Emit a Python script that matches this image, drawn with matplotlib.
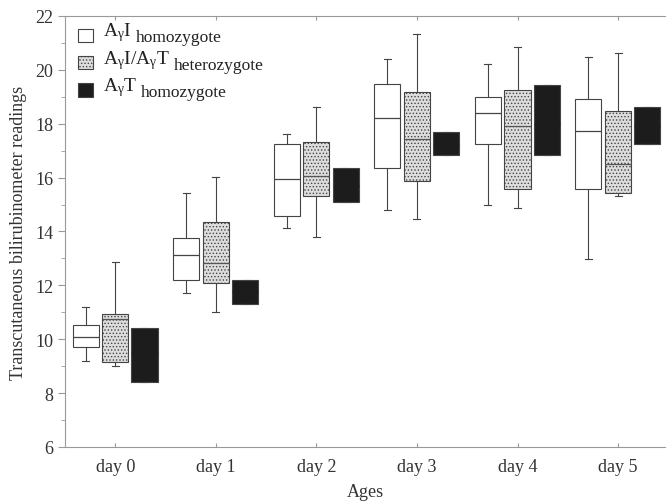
import numpy as np
import matplotlib.pyplot as plt
from matplotlib.patches import Rectangle

plt.rcParams['font.family'] = ['Liberation Serif', 'DejaVu Serif']
plt.rcParams['mathtext.fontset'] = 'custom'
plt.rcParams['mathtext.rm'] = 'Liberation Serif'
plt.rcParams['mathtext.it'] = 'Liberation Serif:italic'
plt.rcParams['hatch.color'] = '#777777'
plt.rcParams['hatch.linewidth'] = 0.6

days = ['day 0', 'day 1', 'day 2', 'day 3', 'day 4', 'day 5']

# 每组: 下须, 下四分位, 中位数, 上四分位, 上须
ai_lo = [9.19, 11.72, 14.14, 14.78, 15.0, 12.96]
ai_q1 = [9.7, 12.21, 14.56, 16.36, 17.23, 15.57]
ai_med = [10.1, 13.12, 15.95, 18.22, 18.4, 17.73]
ai_q3 = [10.51, 13.74, 17.26, 19.46, 19.0, 18.9]
ai_hi = [11.19, 15.43, 17.6, 20.4, 20.23, 20.46]

het_lo = [9.0, 11.0, 13.78, 14.46, 14.88, 15.3]
het_q1 = [9.16, 12.1, 15.32, 15.89, 15.57, 15.44]
het_med = [10.74, 12.84, 16.06, 17.42, 17.91, 16.52]
het_q3 = [10.93, 14.36, 17.32, 19.19, 19.26, 18.47]
het_hi = [12.88, 16.01, 18.62, 21.32, 20.84, 20.63]

at_q1 = [8.41, 11.31, 15.1, 16.83, 16.85, 17.23]
at_q3 = [10.43, 12.21, 16.35, 17.7, 19.44, 18.62]
at_med = [9.5, 11.8, 15.7, 17.2, 18.0, 17.9]

label_main = [r'A$_{\mathrm{γ}}$I', r'A$_{\mathrm{γ}}$I/A$_{\mathrm{γ}}$T', r'A$_{\mathrm{γ}}$T']
label_sub = ['homozygote', 'heterozygote', 'homozygote']


def stats(lo, q1, med, q3, hi):
    return [dict(whislo=a, q1=b, med=c, q3=d, whishi=e, fliers=[])
            for a, b, c, d, e in zip(lo, q1, med, q3, hi)]


fig = plt.figure(figsize=(6.67, 5.02), dpi=100)
ax = fig.add_axes([0.0975, 0.1076, 0.9, 0.8586])

x = np.arange(len(days))
w = 0.26
line_c = '#444444'

fills = ['white', '#dddddd', '#1c1c1c']
hatches = [None, '.....', None]
groups = [
    (stats(ai_lo, ai_q1, ai_med, ai_q3, ai_hi), -0.295, line_c),
    (stats(het_lo, het_q1, het_med, het_q3, het_hi), 0.0, '#555555'),
    (stats(at_q1, at_q1, at_med, at_q3, at_q3), 0.29, '#1c1c1c'),
]

for (st, off, mc), fc, hatch in zip(groups, fills, hatches):
    ax.bxp(st, positions=x + off, widths=w, capwidths=0.07, showfliers=False,
           patch_artist=True,
           boxprops=dict(facecolor=fc, edgecolor=line_c, linewidth=0.8, hatch=hatch),
           medianprops=dict(color=mc, linewidth=0.9),
           whiskerprops=dict(color=line_c, linewidth=0.8),
           capprops=dict(color=line_c, linewidth=0.8))

# 图例手工画: 下沉的小字用 annotate 接在主文字后面
for i in range(3):
    y0 = 0.97 - i * 0.063
    ax.add_patch(Rectangle((0.021, y0 - 0.031), 0.025, 0.031, transform=ax.transAxes,
                           facecolor=fills[i], edgecolor=line_c, linewidth=0.8,
                           hatch=hatches[i], clip_on=False))
    t = ax.text(0.063, y0 - 0.016, label_main[i], transform=ax.transAxes,
                fontsize=14, color='#222222', va='baseline')
    ax.annotate(label_sub[i], xy=(1, 0), xycoords=t, xytext=(3, 1.5),
                textcoords='offset points', fontsize=12.5, color='#222222',
                va='baseline')

ax.set_xlim(-0.5, 5.47)
ax.set_ylim(6, 22)
ax.set_xticks(x)
ax.set_xticklabels(days)
ax.set_yticks(np.arange(6, 23, 2))
ax.set_yticks(np.arange(7, 22, 2), minor=True)

for s in ['left', 'top', 'bottom']:
    ax.spines[s].set_color('#999999')
    ax.spines[s].set_linewidth(0.8)
ax.spines['right'].set_visible(False)

ax.tick_params(axis='y', which='major', length=5, color='#999999',
               labelsize=13, labelcolor='#333333')
ax.tick_params(axis='y', which='minor', length=3, color='#999999')
ax.tick_params(axis='x', which='major', length=3, direction='in', top=True,
               color='#999999', labelsize=13, labelcolor='#333333', pad=8)

ax.set_ylabel('Transcutaneous bilirubinometer readings', fontsize=13,
              color='#333333', labelpad=6)
ax.set_xlabel('Ages', fontsize=13, color='#333333', labelpad=6)

plt.savefig('out.png', dpi=100)
